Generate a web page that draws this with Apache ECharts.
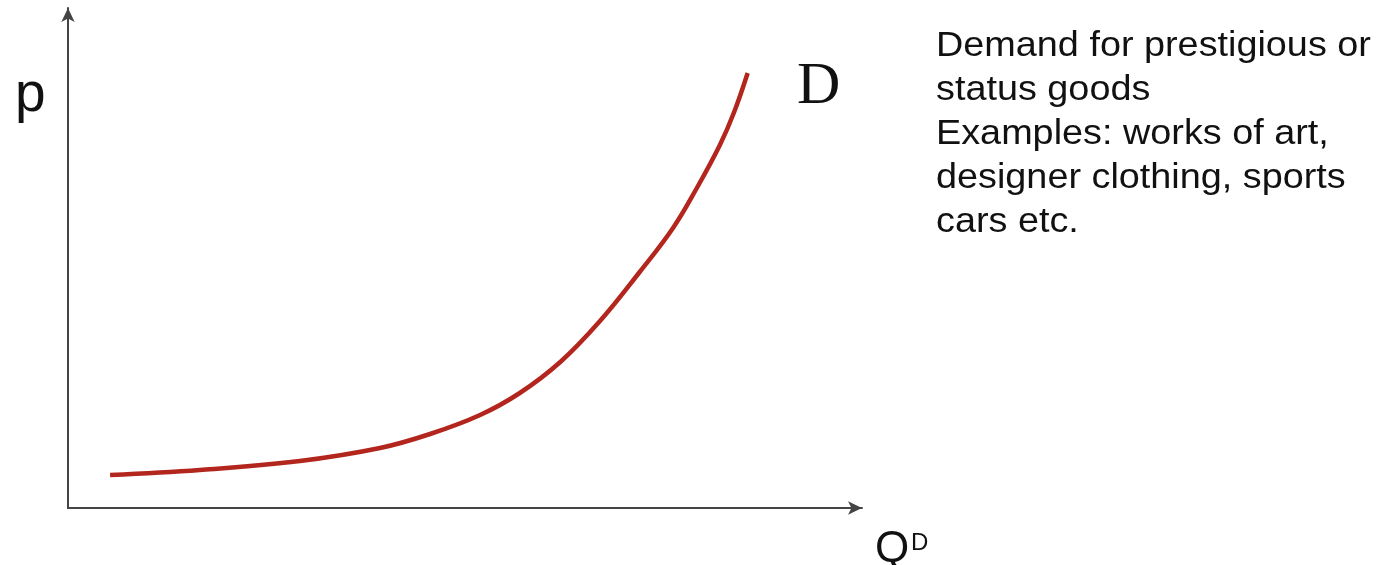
<!DOCTYPE html>
<html>
<head>
<meta charset="utf-8">
<script src="https://cdn.jsdelivr.net/npm/echarts@6/dist/echarts.min.js"></script>
<style>
html,body{margin:0;padding:0;background:#fff;}
#chart{width:1383px;height:565px;}
</style>
</head>
<body>
<div id="chart"></div>
<script>
// Demand curve for prestige goods (quantity demanded vs price)
const quantity = [5.3, 16.6, 29.2, 39.3, 45.6, 51.9, 56.9, 62.0, 67.0, 72.0, 76.2, 79.2, 82.1, 83.9, 85.6];
const price    = [6.6, 7.6, 9.4, 12.0, 14.8, 18.6, 23.0, 29.2, 37.4, 47.2, 56.0, 64.0, 72.6, 79.2, 87.0];
const curveLabel = 'D';
const yAxisLabel = 'p';
const xAxisLabel = 'Q';
const xAxisSup = 'D';
const noteLines = [
  'Demand for prestigious or',
  'status goods',
  'Examples: works of art,',
  'designer clothing, sports',
  'cars etc.'
];

const chart = echarts.init(document.getElementById('chart'));
const axisCommon = {
  type: 'value', min: 0, max: 100,
  splitLine: {show: false}, axisTick: {show: false}, axisLabel: {show: false},
  axisLine: {show: true, symbol: ['none', 'arrow'], symbolSize: [10, 14],
    lineStyle: {color: '#444', width: 2}}
};
chart.setOption({
  animation: false,
  backgroundColor: '#fff',
  grid: {left: 68, top: 8, right: 521, bottom: 57},
  xAxis: Object.assign({}, axisCommon),
  yAxis: Object.assign({}, axisCommon),
  series: [{
    type: 'line',
    data: quantity.map((q, i) => [q, price[i]]),
    smooth: 0.4,
    showSymbol: false,
    lineStyle: {color: '#b3261e', width: 4.5}
  }],
  graphic: [
    {type: 'text', x: 15, y: 96, style: {text: yAxisLabel, fontFamily: 'Liberation Sans', fontSize: 55, fill: '#111', verticalAlign: 'middle'}},
    {type: 'text', x: 797, y: 87, style: {text: curveLabel, fontFamily: 'Liberation Serif', fontSize: 60, fill: '#111', verticalAlign: 'middle'}},
    {type: 'text', x: 875, y: 550, style: {text: xAxisLabel, fontFamily: 'Liberation Sans', fontSize: 44, fill: '#111', verticalAlign: 'middle'}},
    {type: 'text', x: 911, y: 543, style: {text: xAxisSup, fontFamily: 'Liberation Sans', fontSize: 24, fill: '#111', verticalAlign: 'middle'}},
    {type: 'text', x: 936, y: 24, scaleX: 1.08,
      style: {text: noteLines.join('\n'), fontFamily: 'Liberation Sans', fontSize: 35, lineHeight: 44, fill: '#111', verticalAlign: 'top'}}
  ]
});
</script>
</body>
</html>
